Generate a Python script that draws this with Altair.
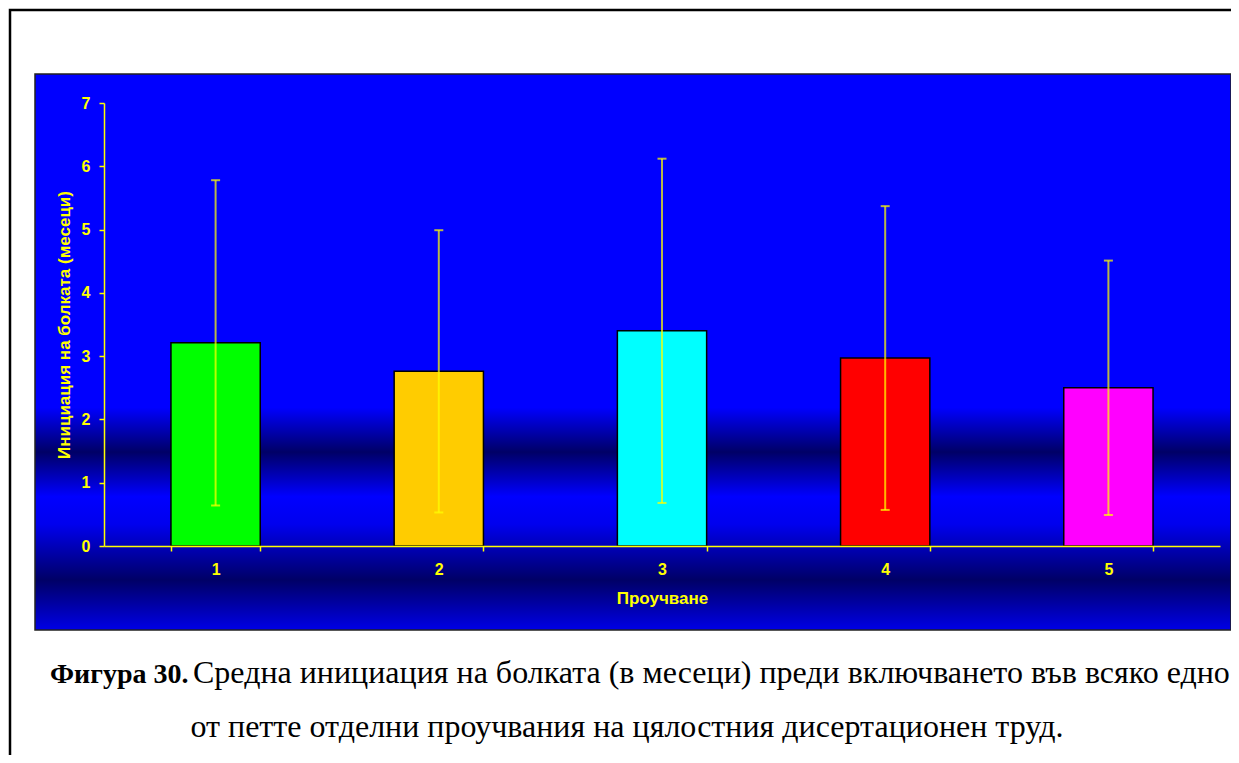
import altair as alt
import pandas as pd

# ---- data ----
studies = ["1", "2", "3", "4", "5"]
means = [3.21, 2.76, 3.40, 2.97, 2.50]
sds = [2.57, 2.23, 2.72, 2.40, 2.01]
bar_colors = ["#00FF00", "#FFCC00", "#00FFFF", "#FF0000", "#FF00FF"]
y_ticks = [0, 1, 2, 3, 4, 5, 6, 7]

x_title = "Проучване"
y_title = "Инициация на болката (месеци)"
cap_bold = "Фигура 30."
cap_line1 = "Средна инициация на болката (в месеци) преди включването във всяко едно"
cap_line2 = "от петте отделни проучвания на цялостния дисертационен труд."

df = pd.DataFrame({"study": studies, "mean": means, "sd": sds})
one = pd.DataFrame({"k": [0]})

W, H = 1116, 443
YEL = "#FFFF00"
SANS = "Liberation Sans"

axis_style = dict(
    grid=False, domainColor=YEL, tickColor=YEL, labelColor=YEL, titleColor=YEL,
    domainWidth=1.5, tickWidth=1.5, tickSize=5,
    labelFont=SANS, titleFont=SANS, labelFontSize=16, titleFontSize=17,
    labelFontWeight="bold", titleFontWeight="bold", zindex=2,
)

x_enc = alt.X("study:N", title=x_title,
              scale=alt.Scale(paddingInner=0.6, paddingOuter=0.3),
              axis=alt.Axis(labelAngle=0, tickBand="extent",
                            labelPadding=10, titlePadding=13, **axis_style))
y_scale = alt.Scale(domain=[0, 7], nice=False)
y_axis = alt.Axis(values=y_ticks, format="d", labelPadding=9,
                  titlePadding=8, **axis_style)

bg_grad = alt.Gradient(
    gradient="linear", x1=0, x2=0, y1=0, y2=1,
    stops=[
        alt.GradientStop(color="#0000FF", offset=0.0),
        alt.GradientStop(color="#0000FF", offset=0.60),
        alt.GradientStop(color="#000066", offset=0.68),
        alt.GradientStop(color="#0000FF", offset=0.76),
        alt.GradientStop(color="#0000EE", offset=0.81),
        alt.GradientStop(color="#000066", offset=0.91),
        alt.GradientStop(color="#0000E6", offset=1.0),
    ],
)

frame = alt.Chart(one).mark_rect(fill="white", stroke="black", strokeWidth=2.5).encode(
    x=alt.value(-94), x2=alt.value(1160), y=alt.value(-93), y2=alt.value(680)
)
panel = alt.Chart(one).mark_rect(fill=bg_grad, stroke="#222222", strokeWidth=1.5).encode(
    x=alt.value(-69), x2=alt.value(1127), y=alt.value(-29), y2=alt.value(527)
)

bars = alt.Chart(df).mark_bar(stroke="black", strokeWidth=1.5).encode(
    x=x_enc,
    y=alt.Y("mean:Q", title=y_title, scale=y_scale, axis=y_axis),
    color=alt.Color("study:N", scale=alt.Scale(domain=studies, range=bar_colors), legend=None),
)

err = alt.Chart(df).transform_calculate(
    lo="datum.mean - datum.sd", hi="datum.mean + datum.sd"
)
rules = err.mark_rule(color=YEL, strokeWidth=2, opacity=0.72).encode(
    x="study:N", y="lo:Q", y2="hi:Q"
)
cap_hi = err.mark_tick(color=YEL, size=9, thickness=2, opacity=0.72).encode(
    x="study:N", y="hi:Q"
)
cap_lo = err.mark_tick(color=YEL, size=9, thickness=2, opacity=0.72).encode(
    x="study:N", y="lo:Q"
)

serif = "Liberation Serif"
t_bold = alt.Chart(one).mark_text(font=serif, fontSize=28, fontWeight="bold",
                                  align="left", baseline="alphabetic", color="black").encode(
    x=alt.value(-54), y=alt.value(580), text=alt.value(cap_bold)
)
t_l1 = alt.Chart(one).mark_text(font=serif, fontSize=32, align="left",
                                baseline="alphabetic", color="black").encode(
    x=alt.value(89), y=alt.value(580), text=alt.value(cap_line1)
)
t_l2 = alt.Chart(one).mark_text(font=serif, fontSize=32, align="center",
                                baseline="alphabetic", color="black").encode(
    x=alt.value(523), y=alt.value(634), text=alt.value(cap_line2)
)

chart = alt.layer(frame, panel, bars, rules, cap_hi, cap_lo, t_bold, t_l1, t_l2).properties(
    width=W, height=H,
    autosize=alt.AutoSizeParams(type="none"),
    padding={"left": 96, "top": 95, "right": 11, "bottom": 209},
    background="white",
).configure_view(stroke=None)

chart.save("out.html", embed_options={"renderer": "svg", "actions": False})
